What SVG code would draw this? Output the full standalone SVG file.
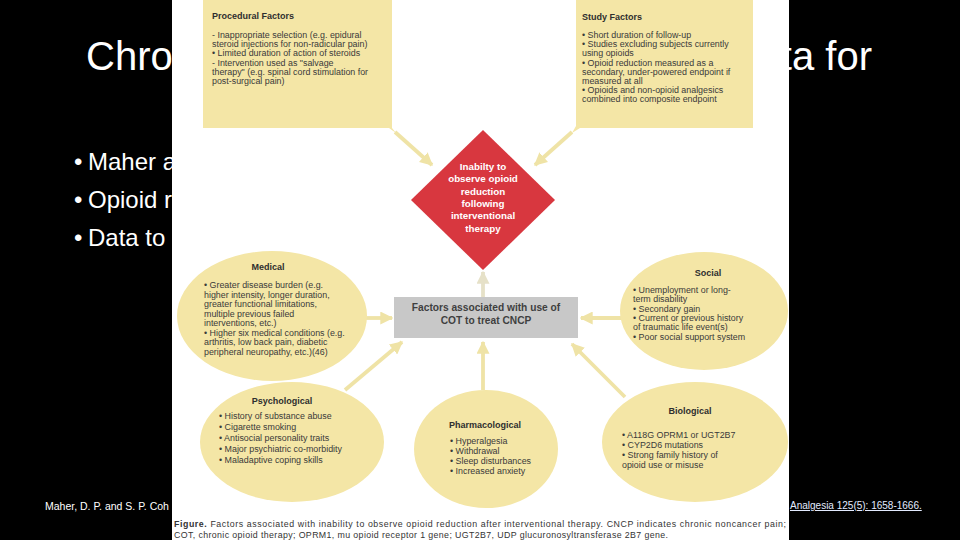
<svg xmlns="http://www.w3.org/2000/svg" width="960" height="540" viewBox="0 0 960 540">
<defs>
<style>
.slide{font-family:"Liberation Sans",Arial,sans-serif;fill:#ffffff}
.fig{font-family:"Liberation Sans",Arial,sans-serif;fill:#3a3a3a;font-size:8.9px}
.hd{font-weight:bold;font-size:9px;fill:#2e2e2e}
.wh{font-family:"Liberation Sans",Arial,sans-serif;fill:#ffffff;font-weight:bold;font-size:9.8px}
.yel{fill:#f4e6a6}
.conn{stroke:#efe3a6;stroke-width:3.8;fill:none}
.cap{font-family:"Liberation Sans",Arial,sans-serif;fill:#333;font-size:8.8px}
</style>
<marker id="ah" viewBox="0 0 10 10" refX="9" refY="5" markerWidth="13" markerHeight="13" markerUnits="userSpaceOnUse" orient="auto">
<path d="M0,0 L10,5 L0,10 z" fill="#efe3a6"/>
</marker>
<marker id="ahg" viewBox="0 0 10 10" refX="9" refY="5" markerWidth="13" markerHeight="13" markerUnits="userSpaceOnUse" orient="auto">
<path d="M0,0 L10,5 L0,10 z" fill="#e6e1c8"/>
</marker>
</defs>
<rect x="0" y="0" width="960" height="540" fill="#000"/>
<g id="slide-text">
<text class="slide" x="86" y="70" font-size="40">Chro</text>
<text class="slide" x="872" y="70" font-size="40" text-anchor="end">ta for</text>
<text class="slide" x="74" y="170" font-size="24">•</text>
<text class="slide" x="88" y="170" font-size="24">Maher a</text>
<text class="slide" x="74" y="208" font-size="24">•</text>
<text class="slide" x="88" y="208" font-size="24">Opioid r</text>
<text class="slide" x="74" y="246" font-size="24">•</text>
<text class="slide" x="88" y="246" font-size="24">Data to</text>
<text class="slide" x="45" y="510" font-size="10.5">Maher, D. P. and S. P. Coh</text>
<text x="790" y="509" font-size="10" font-family="Liberation Sans,Arial,sans-serif" fill="#e3ebff" text-decoration="underline">Analgesia 125(5): 1658-1666.</text>
</g>
<rect x="172" y="0" width="617" height="540" fill="#ffffff"/>
<g id="connectors">
<line class="conn" x1="395" y1="132" x2="432" y2="165" marker-end="url(#ah)"/>
<line class="conn" x1="572" y1="132" x2="535" y2="165" marker-end="url(#ah)"/>
<line class="conn" x1="483" y1="297" x2="483" y2="272" marker-end="url(#ahg)" style="stroke:#e6e1c8"/>
<line class="conn" x1="366" y1="318" x2="392" y2="318" marker-end="url(#ah)"/>
<line class="conn" x1="622" y1="318" x2="581" y2="318" marker-end="url(#ah)"/>
<line class="conn" x1="345" y1="390" x2="402" y2="342" marker-end="url(#ah)"/>
<line class="conn" x1="483" y1="390" x2="483" y2="342" marker-end="url(#ah)"/>
<line class="conn" x1="625" y1="397" x2="572" y2="344" marker-end="url(#ah)"/>
</g>
<g id="procedural">
<path class="yel" d="M203,0 H392 V128 L396,133 L389,128 H203 Z"/>
<text class="fig hd" x="212" y="19">Procedural Factors</text>
<text class="fig" x="212" y="38">- Inappropriate selection (e.g. epidural</text>
<text class="fig" x="212" y="47.2">steroid injections for non-radicular pain)</text>
<text class="fig" x="212" y="56.4">• Limited duration of action of steroids</text>
<text class="fig" x="212" y="65.6">- Intervention used as "salvage</text>
<text class="fig" x="212" y="74.8">therapy" (e.g. spinal cord stimulation for</text>
<text class="fig" x="212" y="84">post-surgical pain)</text>
</g>
<g id="study">
<path class="yel" d="M576,0 H753 V128 H580 L572,133 L576,126 Z"/>
<text class="fig hd" x="582" y="20">Study Factors</text>
<text class="fig" x="582" y="38">• Short duration of follow-up</text>
<text class="fig" x="582" y="47.2">• Studies excluding subjects currently</text>
<text class="fig" x="582" y="56.4">using opioids</text>
<text class="fig" x="582" y="65.6">• Opioid reduction measured as a</text>
<text class="fig" x="582" y="74.8">secondary, under-powered endpoint if</text>
<text class="fig" x="582" y="84">measured at all</text>
<text class="fig" x="582" y="93.2">• Opioids and non-opioid analgesics</text>
<text class="fig" x="582" y="102.4">combined into composite endpoint</text>
</g>
<g id="outcome">
<path d="M483,130 L555,200 L483,270 L411,200 Z" fill="#d8373f"/>
<text class="wh" x="483" y="170" text-anchor="middle">Inabilty to</text>
<text class="wh" x="483" y="182.3" text-anchor="middle">observe opioid</text>
<text class="wh" x="483" y="194.6" text-anchor="middle">reduction</text>
<text class="wh" x="483" y="206.9" text-anchor="middle">following</text>
<text class="wh" x="483" y="219.2" text-anchor="middle">interventional</text>
<text class="wh" x="483" y="231.5" text-anchor="middle">therapy</text>
</g>
<g id="factors">
<rect x="394" y="297" width="184" height="41" fill="#c8c8c8"/>
<text class="fig hd" x="486" y="311" text-anchor="middle" style="fill:#3f3f3f;font-size:10.2px">Factors associated with use of</text>
<text class="fig hd" x="486" y="324" text-anchor="middle" style="fill:#3f3f3f;font-size:10.2px">COT to treat CNCP</text>
</g>
<g id="medical">
<ellipse class="yel" cx="272" cy="316" rx="95" ry="65"/>
<text class="fig hd" x="268" y="270" text-anchor="middle">Medical</text>
<text class="fig" x="204" y="288">• Greater disease burden (e.g.</text>
<text class="fig" x="204" y="297.5">higher intensity, longer duration,</text>
<text class="fig" x="204" y="307">greater functional limitations,</text>
<text class="fig" x="204" y="316.5">multiple previous failed</text>
<text class="fig" x="204" y="326">interventions, etc.)</text>
<text class="fig" x="204" y="335.5">• Higher six medical conditions (e.g.</text>
<text class="fig" x="204" y="345">arthritis, low back pain, diabetic</text>
<text class="fig" x="204" y="354.5">peripheral neuropathy, etc.)(46)</text>
</g>
<g id="social">
<ellipse class="yel" cx="704" cy="311" rx="84" ry="59"/>
<text class="fig hd" x="708" y="276" text-anchor="middle">Social</text>
<text class="fig" x="633" y="293">• Unemployment or long-</text>
<text class="fig" x="633" y="302.3">term disability</text>
<text class="fig" x="633" y="311.6">• Secondary gain</text>
<text class="fig" x="633" y="320.9">• Current or previous history</text>
<text class="fig" x="633" y="330.2">of traumatic life event(s)</text>
<text class="fig" x="633" y="339.5">• Poor social support system</text>
</g>
<g id="psychological">
<ellipse class="yel" cx="292" cy="442" rx="92" ry="60"/>
<text class="fig hd" x="282" y="404" text-anchor="middle">Psychological</text>
<text class="fig" x="219" y="419">• History of substance abuse</text>
<text class="fig" x="219" y="430">• Cigarette smoking</text>
<text class="fig" x="219" y="441">• Antisocial personality traits</text>
<text class="fig" x="219" y="452">• Major psychiatric co-morbidity</text>
<text class="fig" x="219" y="463">• Maladaptive coping skills</text>
</g>
<g id="pharmacological">
<ellipse class="yel" cx="486" cy="449" rx="72" ry="59"/>
<text class="fig hd" x="485" y="428" text-anchor="middle">Pharmacological</text>
<text class="fig" x="450" y="444">• Hyperalgesia</text>
<text class="fig" x="450" y="454">• Withdrawal</text>
<text class="fig" x="450" y="464">• Sleep disturbances</text>
<text class="fig" x="450" y="474">• Increased anxiety</text>
</g>
<g id="biological">
<ellipse class="yel" cx="695" cy="442" rx="93" ry="60"/>
<text class="fig hd" x="690" y="414" text-anchor="middle">Biological</text>
<text class="fig" x="622" y="438">• A118G OPRM1 or UGT2B7</text>
<text class="fig" x="622" y="448">• CYP2D6 mutations</text>
<text class="fig" x="622" y="458">• Strong family history of</text>
<text class="fig" x="622" y="468">opioid use or misuse</text>
</g>
<g id="caption">
<text class="cap" x="174" y="527" textLength="612" lengthAdjust="spacing"><tspan font-weight="bold">Figure.</tspan> Factors associated with inability to observe opioid reduction after interventional therapy. CNCP indicates chronic noncancer pain;</text>
<text class="cap" x="174" y="538" textLength="494" lengthAdjust="spacing">COT, chronic opioid therapy; OPRM1, mu opioid receptor 1 gene; UGT2B7, UDP glucuronosyltransferase 2B7 gene.</text>
</g>
</svg>
